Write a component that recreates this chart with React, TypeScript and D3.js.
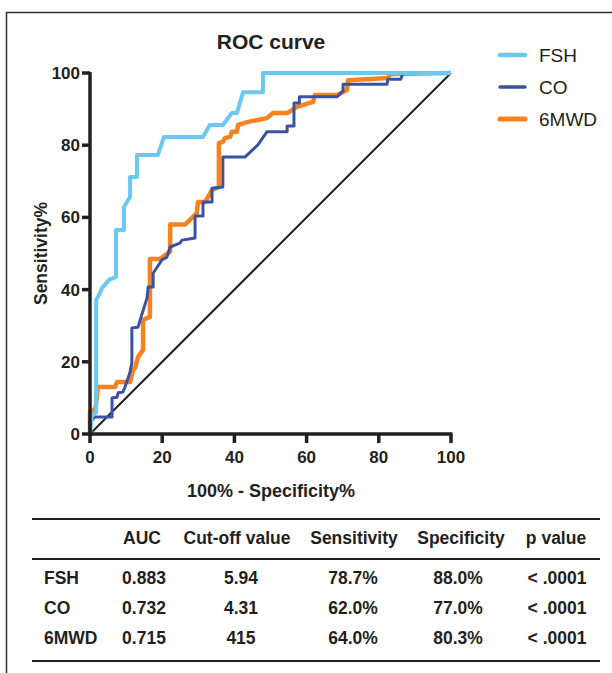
import React from "react";
import * as d3 from "d3";

const fshPts: [number, number][] = [
  [0, 0], [0.5, 5], [1.7, 6], [1.7, 37.1], [2.5, 38.5], [3.3, 40.4], [5.3, 42.7], [7.2, 43.5],
  [7.2, 56.5], [9.4, 56.5], [9.4, 62.9], [11.1, 65.7], [11.1, 71.2], [13, 71.2], [13, 77.3],
  [18.8, 77.3], [20.5, 82.3], [31.3, 82.3], [33.2, 85.6], [36.8, 85.6], [39.3, 88.9], [40.7, 88.9],
  [42.4, 94.7], [47.9, 94.7], [47.9, 100], [100, 100],
];
const coPts: [number, number][] = [
  [0, 0], [0, 3.3], [1.4, 4.7], [6.1, 4.7], [6.1, 10], [7.5, 10.2], [7.8, 11.4], [9.1, 11.6],
  [9.7, 13], [11.1, 17.2], [11.6, 19.7], [11.6, 29.4], [13.3, 29.6], [13.9, 31.6], [15.8, 37.7],
  [16.1, 40.7], [17.5, 40.7], [17.5, 44.6], [19.4, 47.4], [19.9, 48.2], [21.3, 49], [22.2, 51.8],
  [24.9, 52.9], [25.5, 53.7], [29.1, 54.3], [29.1, 60.4], [31.3, 60.4], [31.3, 64.3], [33.8, 64.3],
  [33.8, 68.1], [36.8, 68.4], [36.8, 76.7], [42.9, 76.7], [46.5, 80.1], [49, 83.7], [54.6, 83.7],
  [54.6, 85.3], [56.5, 85.3], [56.5, 91.7], [58, 91.7], [58, 93.4], [68.4, 93.4], [70.1, 95],
  [70.1, 96.9], [82.3, 96.9], [82.5, 98.3], [86.1, 98.3], [86.7, 100], [100, 100],
];
const mwdPts: [number, number][] = [
  [0, 0], [0, 6], [1.5, 7], [2.2, 13], [6.9, 13], [7.5, 14.4], [11.1, 14.4], [11.9, 17.7],
  [12.5, 18.3], [13.3, 21.3], [14.7, 23.3], [14.7, 31.6], [16.6, 32.4], [16.6, 48.5], [19.4, 48.5],
  [22.2, 50.5], [22.2, 58], [26.3, 58], [29.6, 61.2], [29.9, 64.3], [31.9, 64.3], [33.8, 67.6],
  [35.7, 68.4], [35.7, 80.6], [36.8, 80.9], [37.4, 82], [38.8, 82.3], [39.3, 83.7], [40.7, 83.7],
  [41, 85.6], [43.5, 86.4], [46.5, 87], [49, 87.5], [50.7, 88.9], [54.6, 88.9], [57.3, 90.6],
  [61.8, 92], [62.3, 93.9], [68.4, 93.9], [71.2, 95.3], [71.5, 98], [82.5, 98.6], [83.1, 99.7],
  [100, 100],
];
const refPts: [number, number][] = [[0, 0], [100, 100]];

const ticks = [0, 20, 40, 60, 80, 100];
const seriesNames = ["FSH", "CO", "6MWD"];
const seriesColors = ["#6cc8f0", "#3a52a3", "#f7821f"];
const seriesWidths = [4, 3, 4.5];

const tableHeaders = ["", "AUC", "Cut-off value", "Sensitivity", "Specificity", "p value"];
const tableRows = [
  ["FSH", "0.883", "5.94", "78.7%", "88.0%", "< .0001"],
  ["CO", "0.732", "4.31", "62.0%", "77.0%", "< .0001"],
  ["6MWD", "0.715", "415", "64.0%", "80.3%", "< .0001"],
];

const INK = "#231f20";
const FONT = "'Liberation Sans', Arial, Helvetica, sans-serif";

export default function App() {
  const x = d3.scaleLinear().domain([0, 100]).range([90, 451]);
  const y = d3.scaleLinear().domain([0, 100]).range([434, 73]);
  const line = d3.line<[number, number]>().x((d) => x(d[0])).y((d) => y(d[1]));
  const series = [fshPts, coPts, mwdPts];
  const drawOrder = [2, 1, 0];

  const headCenters = [0, 142, 237, 354, 461, 556];
  const valCenters = [0, 144, 241, 353, 458, 557];
  const rowYs = [584, 614, 644];

  return (
    <svg
      width={612}
      height={673}
      style={{ position: "absolute", left: 0, top: 0, background: "#fff" }}
      fontFamily={FONT}
    >
      <rect x={0} y={0} width={612} height={673} fill="#fff" />
      <path d="M6.5,673 V12.5 H612" fill="none" stroke="#333" strokeWidth={1.5} />

      <text x={271} y={49} textAnchor="middle" fontSize={21} fontWeight="bold" fill={INK}>
        ROC curve
      </text>

      {/* diagonal */}
      <path d={line(refPts) || ""} fill="none" stroke={INK} strokeWidth={2} />

      {drawOrder.map((i) => (
        <path
          key={seriesNames[i]}
          d={line(series[i]) || ""}
          fill="none"
          stroke={seriesColors[i]}
          strokeWidth={seriesWidths[i]}
          strokeLinejoin="round"
        />
      ))}

      {/* axes */}
      <line x1={x(0)} x2={x(0)} y1={y(100) - 1} y2={y(0) + 2} stroke={INK} strokeWidth={3.5} />
      <line x1={x(0) - 2} x2={x(100) + 1.5} y1={y(0)} y2={y(0)} stroke={INK} strokeWidth={3.5} />
      {ticks.map((t) => (
        <g key={"y" + t}>
          <line x1={x(0) - 8} x2={x(0)} y1={y(t)} y2={y(t)} stroke={INK} strokeWidth={3.5} />
          <text x={x(0) - 10} y={y(t) + 6} textAnchor="end" fontSize={17} fontWeight="bold" fill={INK}>
            {t}
          </text>
        </g>
      ))}
      {ticks.map((t) => (
        <g key={"x" + t}>
          <line x1={x(t)} x2={x(t)} y1={y(0)} y2={y(0) + 9} stroke={INK} strokeWidth={3.5} />
          <text x={x(t)} y={y(0) + 29} textAnchor="middle" fontSize={17} fontWeight="bold" fill={INK}>
            {t}
          </text>
        </g>
      ))}
      <text
        transform={`translate(47,${(y(0) + y(100)) / 2}) rotate(-90)`}
        textAnchor="middle"
        fontSize={17.5}
        fontWeight="bold"
        fill={INK}
      >
        Sensitivity%
      </text>
      <text x={271} y={497} textAnchor="middle" fontSize={18} fontWeight="bold" fill={INK}>
        100% - Specificity%
      </text>

      {/* legend */}
      {seriesNames.map((n, i) => (
        <g key={"leg" + n}>
          <line
            x1={500}
            x2={525}
            y1={55 + i * 32}
            y2={55 + i * 32}
            stroke={seriesColors[i]}
            strokeWidth={seriesWidths[i] + 0.5}
            strokeLinecap="round"
          />
          <text x={539} y={62 + i * 32} fontSize={19} fill={INK}>
            {n}
          </text>
        </g>
      ))}

      {/* table */}
      <line x1={32} x2={600} y1={519} y2={519} stroke={INK} strokeWidth={2.2} />
      <line x1={32} x2={600} y1={559} y2={559} stroke={INK} strokeWidth={2.2} />
      <line x1={32} x2={600} y1={661} y2={661} stroke={INK} strokeWidth={2.2} />
      {tableHeaders.map((h, j) =>
        j === 0 ? null : (
          <text
            key={"h" + j}
            x={headCenters[j]}
            y={544}
            textAnchor="middle"
            fontSize={17.5}
            fontWeight="bold"
            fill={INK}
          >
            {h}
          </text>
        )
      )}
      {tableRows.map((r, i) =>
        r.map((c, j) => (
          <text
            key={"c" + i + "-" + j}
            x={j === 0 ? 44 : valCenters[j]}
            y={rowYs[i]}
            textAnchor={j === 0 ? "start" : "middle"}
            fontSize={17.5}
            fontWeight="bold"
            fill={INK}
          >
            {c}
          </text>
        ))
      )}
    </svg>
  );
}
